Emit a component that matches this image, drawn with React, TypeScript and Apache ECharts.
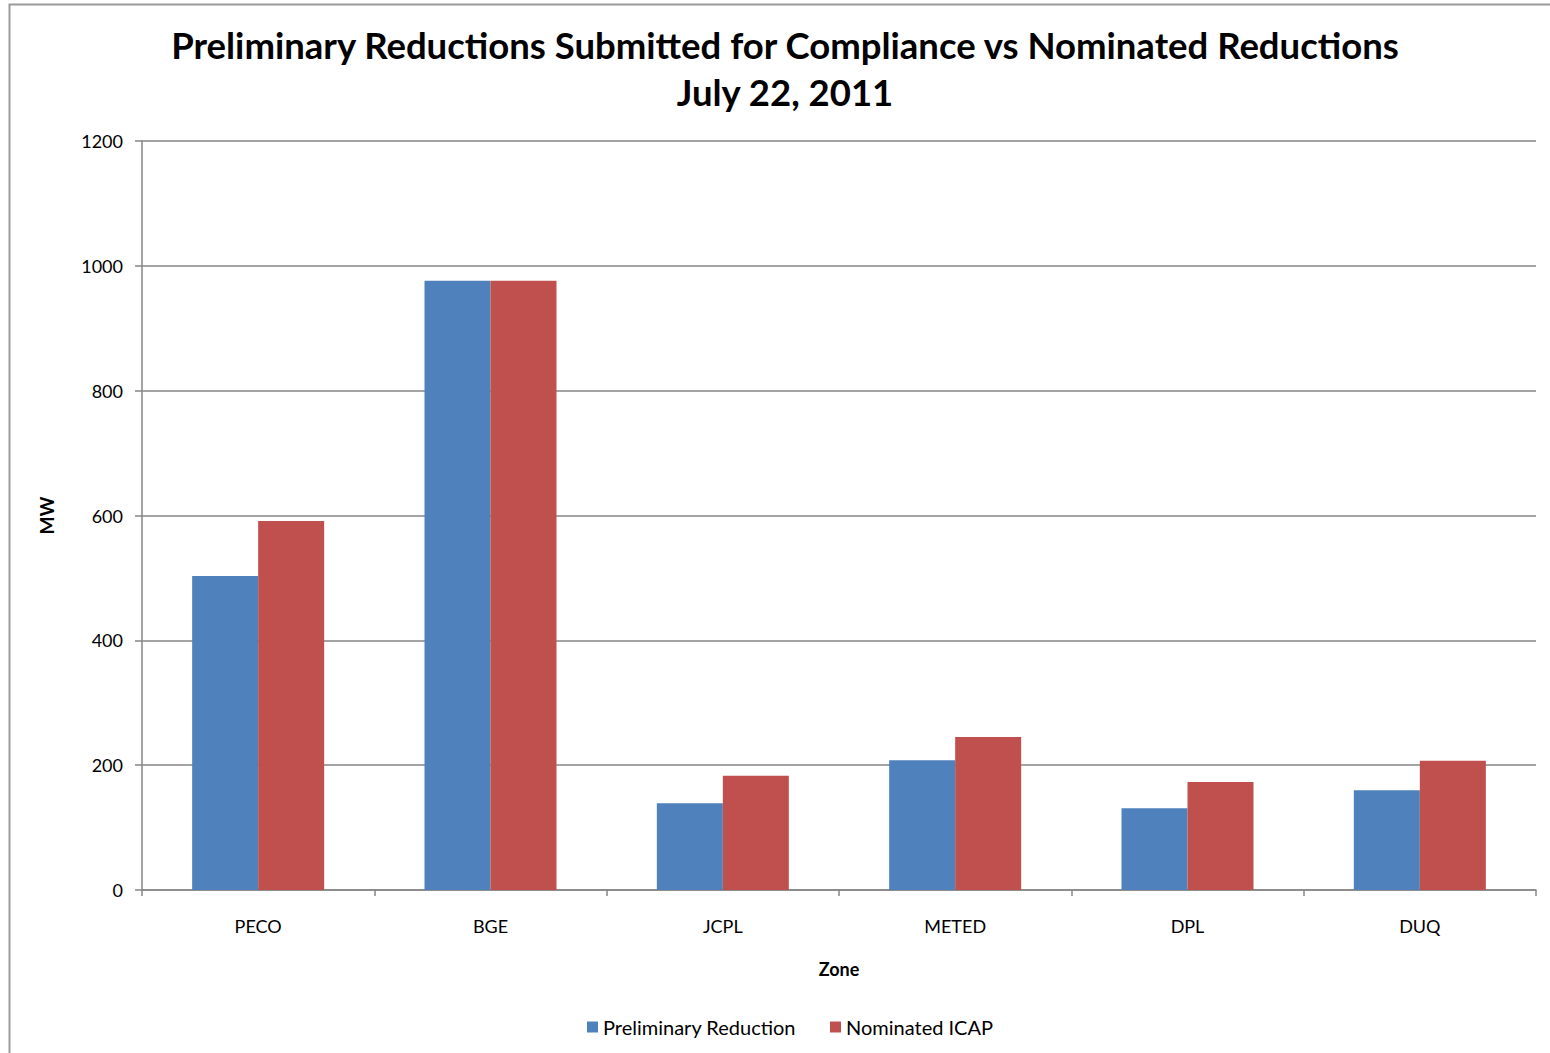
import React, { useEffect, useRef } from "react";
import * as echarts from "echarts";

const zones = ["PECO", "BGE", "JCPL", "METED", "DPL", "DUQ"];
const preliminaryReduction = [503, 976, 139, 208, 131, 160];
const nominatedICAP = [591, 976, 183, 245, 173, 207];
const titleLines = ["Preliminary Reductions Submitted for Compliance vs Nominated Reductions", "July 22, 2011"];

const FONT = "Lato, 'Open Sans', sans-serif";

export default function App() {
  const ref = useRef<HTMLDivElement>(null);
  useEffect(() => {
    document.body.style.margin = "0";
    const chart = echarts.init(ref.current!, null, { renderer: "svg" });
    chart.setOption({
      animation: false,
      backgroundColor: "#ffffff",
      textStyle: { fontFamily: FONT },
      graphic: [
        {
          type: "rect",
          shape: { x: 9.5, y: 4.5, width: 1600, height: 1100 },
          style: { fill: "none", stroke: "#9a9a9a", lineWidth: 2 },
          silent: true,
        },
      ],
      title: {
        text: titleLines.join("\n"),
        left: 780,
        textAlign: "center",
        top: 16,
        textStyle: { fontFamily: FONT, fontSize: 36.5, fontWeight: "bold", color: "#000", lineHeight: 47 },
      },
      legend: {
        bottom: 11,
        left: 582,
        itemWidth: 11,
        itemHeight: 11,
        itemGap: 34,
        icon: "rect",
        textStyle: { fontFamily: FONT, fontSize: 20, color: "#000" },
        data: ["Preliminary Reduction", "Nominated ICAP"],
      },
      grid: { left: 142, right: 14, top: 141, bottom: 163, containLabel: false },
      xAxis: {
        type: "category",
        data: zones,
        name: "Zone",
        nameLocation: "middle",
        nameGap: 70,
        nameTextStyle: { fontFamily: FONT, fontSize: 18, fontWeight: "bold", color: "#000" },
        axisLine: { lineStyle: { color: "#868686", width: 1.5 } },
        axisTick: { show: true, length: 6, lineStyle: { color: "#868686", width: 1.5 } },
        axisLabel: { fontFamily: FONT, fontSize: 18, color: "#000", margin: 27 },
      },
      yAxis: {
        type: "value",
        min: 0,
        max: 1200,
        interval: 200,
        name: "MW",
        nameLocation: "middle",
        nameGap: 86,
        nameRotate: 90,
        nameTextStyle: { fontFamily: FONT, fontSize: 19, fontWeight: "bold", color: "#000" },
        axisLine: { show: true, lineStyle: { color: "#868686", width: 1.5 } },
        axisTick: { show: true, length: 7, lineStyle: { color: "#868686", width: 1.5 } },
        axisLabel: { fontFamily: FONT, fontSize: 18, color: "#000", margin: 19, formatter: (v: number) => String(v) },
        splitLine: { lineStyle: { color: "#868686", width: 1.5 } },
      },
      series: [
        {
          name: "Preliminary Reduction",
          type: "bar",
          data: preliminaryReduction,
          barWidth: 66,
          barGap: "0%",
          itemStyle: { color: "#4f81bd" },
        },
        {
          name: "Nominated ICAP",
          type: "bar",
          data: nominatedICAP,
          barWidth: 66,
          barGap: "0%",
          itemStyle: { color: "#c0504d" },
        },
      ],
    });
    return () => chart.dispose();
  }, []);
  return <div ref={ref} style={{ position: "absolute", left: 0, top: 0, width: 1550, height: 1053 }} />;
}
